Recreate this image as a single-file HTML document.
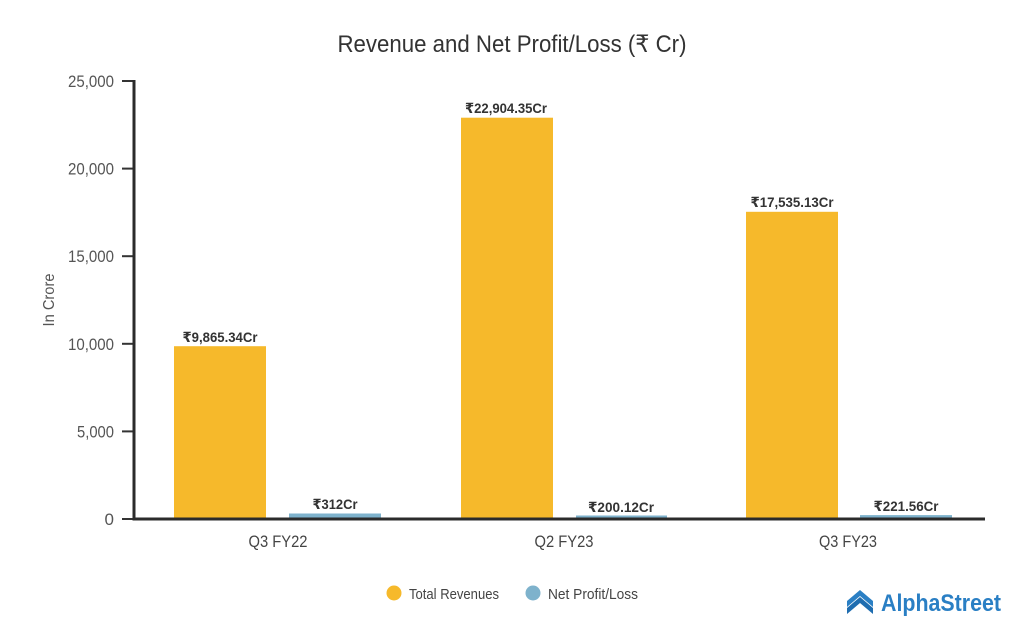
<!DOCTYPE html>
<html>
<head>
<meta charset="utf-8">
<style>
html,body{margin:0;padding:0;background:#fff;}
svg{display:block;}
text{font-family:"Liberation Sans","DejaVu Sans",sans-serif;}
</style>
</head>
<body>
<svg width="1024" height="640" viewBox="0 0 1024 640" xmlns="http://www.w3.org/2000/svg">
<rect width="1024" height="640" fill="#fff"/>
<!-- Title -->
<text x="512" y="52" font-size="24" fill="#333" text-anchor="middle" textLength="349" lengthAdjust="spacingAndGlyphs">Revenue and Net Profit/Loss (₹ Cr)</text>

<!-- Y axis title -->
<text transform="translate(54,300) rotate(-90)" font-size="16" fill="#555" text-anchor="middle" textLength="53" lengthAdjust="spacingAndGlyphs">In Crore</text>

<!-- Y ticks labels -->
<g font-size="17" fill="#555" text-anchor="end">
<text x="114" y="87" textLength="46" lengthAdjust="spacingAndGlyphs">25,000</text>
<text x="114" y="174.6" textLength="46" lengthAdjust="spacingAndGlyphs">20,000</text>
<text x="114" y="262.2" textLength="46" lengthAdjust="spacingAndGlyphs">15,000</text>
<text x="114" y="349.8" textLength="46" lengthAdjust="spacingAndGlyphs">10,000</text>
<text x="114" y="437.4" textLength="37" lengthAdjust="spacingAndGlyphs">5,000</text>
<text x="114" y="525">0</text>
</g>
<g stroke="#333" stroke-width="2">
<line x1="122" y1="81" x2="134" y2="81"/>
<line x1="122" y1="168.6" x2="134" y2="168.6"/>
<line x1="122" y1="256.2" x2="134" y2="256.2"/>
<line x1="122" y1="343.8" x2="134" y2="343.8"/>
<line x1="122" y1="431.4" x2="134" y2="431.4"/>
<line x1="122" y1="519" x2="134" y2="519"/>
</g>

<!-- Bars -->
<g fill="#F6B92B">
<rect x="174" y="346.2" width="92" height="172.8"/>
<rect x="461" y="117.7" width="92" height="401.3"/>
<rect x="746" y="211.8" width="92" height="307.2"/>
</g>
<g fill="#7EB2CC">
<rect x="289" y="513.5" width="92" height="5.5"/>
<rect x="576" y="515.5" width="91" height="3.5"/>
<rect x="860" y="515.1" width="92" height="3.9"/>
</g>

<!-- Axes -->
<line x1="134" y1="80" x2="134" y2="520.5" stroke="#2b2b2b" stroke-width="3"/>
<line x1="132.5" y1="519" x2="985" y2="519" stroke="#2b2b2b" stroke-width="3"/>

<!-- Value labels -->
<g font-size="14" font-weight="bold" fill="#333" text-anchor="middle">
<text x="220" y="342" textLength="75" lengthAdjust="spacingAndGlyphs">₹9,865.34Cr</text>
<text x="506" y="113" textLength="82" lengthAdjust="spacingAndGlyphs">₹22,904.35Cr</text>
<text x="792" y="207" textLength="83" lengthAdjust="spacingAndGlyphs">₹17,535.13Cr</text>
<text x="335" y="509" textLength="45" lengthAdjust="spacingAndGlyphs">₹312Cr</text>
<text x="621" y="512" textLength="66" lengthAdjust="spacingAndGlyphs">₹200.12Cr</text>
<text x="906" y="511" textLength="65" lengthAdjust="spacingAndGlyphs">₹221.56Cr</text>
</g>

<!-- Category labels -->
<g font-size="17" fill="#444" text-anchor="middle">
<text x="278" y="547" textLength="59" lengthAdjust="spacingAndGlyphs">Q3 FY22</text>
<text x="564" y="547" textLength="59" lengthAdjust="spacingAndGlyphs">Q2 FY23</text>
<text x="848" y="547" textLength="58" lengthAdjust="spacingAndGlyphs">Q3 FY23</text>
</g>

<!-- Legend -->
<circle cx="394" cy="593" r="7.5" fill="#F6B92B"/>
<text x="409" y="599" font-size="15" fill="#444" textLength="90" lengthAdjust="spacingAndGlyphs">Total Revenues</text>
<circle cx="533" cy="593" r="7.5" fill="#7EB2CC"/>
<text x="548" y="599" font-size="15" fill="#444" textLength="90" lengthAdjust="spacingAndGlyphs">Net Profit/Loss</text>

<!-- Logo -->
<g fill="#2A7FC4">
<polygon points="847,601 860,590 873,601 873,607 860,596 847,607"/>
<polygon points="847,608 860,597 873,608 873,614 860,603 847,614" fill="#1F6DB0"/>
</g>
<text x="881" y="611" font-size="24" font-weight="bold" fill="#2A7FC4" textLength="120" lengthAdjust="spacingAndGlyphs">AlphaStreet</text>
</svg>
</body>
</html>
